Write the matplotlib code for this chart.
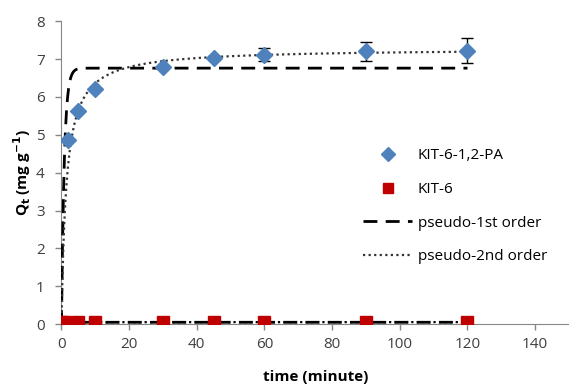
import matplotlib

matplotlib.use("Agg")
import matplotlib.pyplot as plt
import numpy as np

# KIT-6-1,2-PA measured uptake
t_pa = [2, 5, 10, 30, 45, 60, 90, 120]
q_pa = [4.85, 5.62, 6.22, 6.78, 7.03, 7.12, 7.21, 7.22]
err_pa = [0.0, 0.0, 0.0, 0.0, 0.05, 0.18, 0.25, 0.33]

# KIT-6 measured uptake
t_k6 = [0, 1, 5, 10, 30, 45, 60, 90, 120]
q_k6 = [0.05, 0.05, 0.06, 0.06, 0.06, 0.06, 0.06, 0.06, 0.06]

# fitted kinetic parameters (qe in mg/g, k per minute)
pfo_pa = (6.76, 1.2)
pso_pa = (7.28, 0.095)
pfo_k6 = (0.05, 1.2)
pso_k6 = (0.055, 20.0)

x_ticks = [0, 20, 40, 60, 80, 100, 120, 140]
y_ticks = [0, 1, 2, 3, 4, 5, 6, 7, 8]

C_PA, C_K6, C_AX = "#4F81BD", "#C00000", "#868686"

plt.rcParams["font.family"] = ["Open Sans", "DejaVu Sans"]


def pfo(t, qe, k):
    return qe * (1 - np.exp(-k * t))


def pso(t, qe, k):
    return k * qe ** 2 * t / (1 + k * qe * t)


fig = plt.figure(figsize=(5.69, 3.85), dpi=100)
ax = fig.add_axes([0.108, 0.158, 0.892, 0.787])

tt = np.linspace(0, 120, 1200)
ax.plot(tt, pfo(tt, *pfo_k6), color="black", ls=(0, (5, 3)), lw=2.0, zorder=2)
ax.plot(tt, pso(tt, *pso_k6), color="black", ls=(0, (1, 1.5)), lw=1.6, zorder=2)

ax.errorbar(t_pa, q_pa, yerr=err_pa, fmt="none", ecolor="black", elinewidth=1,
            capsize=4, zorder=4)
ax.plot(t_pa, q_pa, "D", color=C_PA, ms=8, zorder=5, label="KIT-6-1,2-PA")
ax.plot(t_k6, q_k6, "s", color=C_K6, ms=8.5, zorder=5, label="KIT-6")
ax.plot(tt, pfo(tt, *pfo_pa), color="black", ls=(0, (5, 3)), lw=2.0, zorder=3,
        label="pseudo-1st order")
ax.plot(tt, pso(tt, *pso_pa), color="#333333", ls=(0, (1, 1.5)), lw=1.6, zorder=3,
        label="pseudo-2nd order")

ax.set_xlim(0, 150)
ax.set_ylim(0, 8)
ax.set_xticks(x_ticks)
ax.set_yticks(y_ticks)
for s in ("top", "right"):
    ax.spines[s].set_visible(False)
for s in ("left", "bottom"):
    ax.spines[s].set_color(C_AX)
ax.tick_params(colors=C_AX, labelcolor="#404040", labelsize=11, length=4, width=1)
ax.tick_params(axis="y", pad=8)
ax.tick_params(axis="x", pad=5)

ax.set_xlabel("time (minute)", fontsize=11, fontweight="bold", labelpad=13)
ax.set_ylabel("Q$_\\mathbf{t}$ (mg g$^{\\mathbf{-1}}$)", fontsize=11,
              fontweight="bold", labelpad=2)

ax.legend(loc="upper left", bbox_to_anchor=(0.58, 0.605), frameon=False,
          fontsize=11, handlelength=3.2, labelspacing=1.22, handletextpad=0.35,
          borderpad=0, numpoints=1, markerscale=0.85)

fig.savefig("out.png", dpi=100)
